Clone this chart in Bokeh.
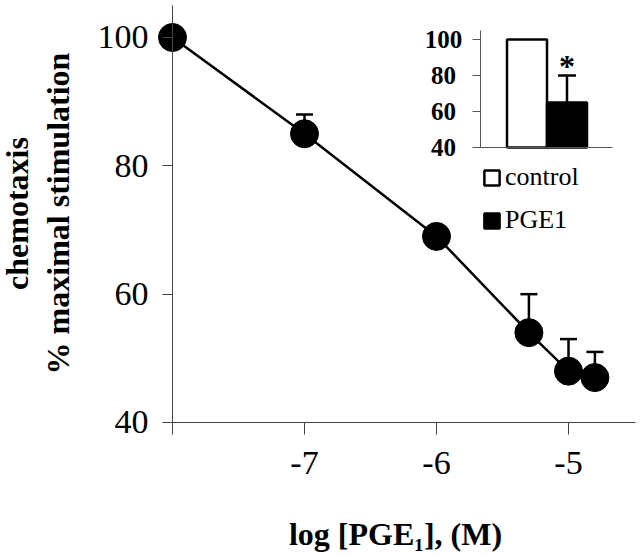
import math
from bokeh.plotting import figure
from bokeh.models import (Range1d, FixedTicker, ColumnDataSource, Whisker, TeeHead,
                          Label, Legend, LegendItem)
from bokeh.core.properties import value
from bokeh.embed import file_html
from bokeh.resources import INLINE

# ---------------- data ----------------
log_conc = [-8, -7, -6, -5.3, -5, -4.8]
chemotaxis = [100, 85, 69, 54, 48, 47]
sem_up = [0, 3, 0, 6, 5, 4]
x_ticks = [-8, -7, -6, -5]
y_ticks = [40, 60, 80, 100]

inset_groups = ["control", "PGE1"]
inset_values = [100, 65]
inset_sem = [0, 15]
inset_ticks = [40, 60, 80, 100]
inset_marks = ["", "*"]

x_title = "log [PGE\u2081], (M)"
y_title_1 = "chemotaxis"
y_title_2 = "% maximal stimulation"

SERIF = "Liberation Serif"

# ---------------- figure (frame covers the whole canvas) ----------------
p = figure(width=640, height=557, output_backend="svg", toolbar_location=None,
           x_range=Range1d(-9.30303, -4.45455), y_range=Range1d(18.961, 105.766),
           min_border_left=0, min_border_right=0, min_border_top=0,
           min_border_bottom=0)
p.outline_line_color = None
p.grid.visible = False
p.background_fill_color = "white"
p.border_fill_color = "white"

xa = p.xaxis[0]
xa.fixed_location = 40
xa.bounds = (-8, -4.4924)
xa.ticker = FixedTicker(ticks=x_ticks)
xa.major_label_overrides = {t: ("" if t == x_ticks[0] else str(t)) for t in x_ticks}
xa.minor_tick_line_color = None
xa.major_tick_in = 0
xa.major_tick_out = 12
xa.major_label_standoff = 18
xa.axis_line_color = "#444444"
xa.major_tick_line_color = "#444444"
xa.major_label_text_font = SERIF
xa.major_label_text_font_size = "34px"
xa.major_label_text_color = "black"

ya = p.yaxis[0]
ya.fixed_location = -8
ya.bounds = (40, 105)
ya.ticker = FixedTicker(ticks=y_ticks)
ya.minor_tick_line_color = None
ya.major_tick_in = 0
ya.major_tick_out = 10
ya.major_label_standoff = 14
ya.axis_line_color = "#444444"
ya.major_tick_line_color = "#444444"
ya.major_label_text_font = SERIF
ya.major_label_text_font_size = "34px"
ya.major_label_text_color = "black"

# ---------------- main curve ----------------
src = ColumnDataSource(dict(x=log_conc, y=chemotaxis))
err_idx = [i for i, e in enumerate(sem_up) if e > 0]
src_err = ColumnDataSource(dict(x=[log_conc[i] for i in err_idx],
                                y=[chemotaxis[i] for i in err_idx],
                                upper=[chemotaxis[i] + sem_up[i] for i in err_idx]))
w = Whisker(source=src_err, base="x", lower="y", upper="upper", dimension="height",
            line_color="black", line_width=2.5, lower_head=None,
            upper_head=TeeHead(size=17, line_width=2.5, line_color="black"),
            level="underlay")
p.add_layout(w)
p.line("x", "y", source=src, line_width=2.5, line_color="black")
p.scatter("x", "y", source=src, size=28, fill_color="black", line_color="black")

# ---------------- inset ----------------
p.extra_x_ranges = {"ix": Range1d(-12.1625, 3.8375)}
p.extra_y_ranges = {"iy": Range1d(-187.778, 121.667)}
pos = list(range(1, len(inset_groups) + 1))
ibase = inset_ticks[0]

r_ctrl = p.vbar(x=[pos[0]], top=[inset_values[0]], bottom=ibase, width=1.0,
                fill_color="white", line_color="black", line_width=2.5,
                x_range_name="ix", y_range_name="iy")
r_pge = p.vbar(x=[pos[1]], top=[inset_values[1]], bottom=ibase, width=1.0,
               fill_color="black", line_color="black", line_width=2.5,
               x_range_name="ix", y_range_name="iy")

ie = [i for i, e in enumerate(inset_sem) if e > 0]
isrc_err = ColumnDataSource(dict(x=[pos[i] for i in ie],
                                 y=[inset_values[i] for i in ie],
                                 upper=[inset_values[i] + inset_sem[i] for i in ie]))
iw = Whisker(source=isrc_err, base="x", lower="y", upper="upper", dimension="height",
             line_color="black", line_width=2.5, lower_head=None,
             upper_head=TeeHead(size=18, line_width=2.5, line_color="black"),
             x_range_name="ix", y_range_name="iy")
p.add_layout(iw)

# inset axes
iax = -0.1625
p.segment(x0=[iax], y0=[ibase], x1=[iax], y1=[105], line_color="#555555", line_width=1,
          x_range_name="ix", y_range_name="iy")
p.segment(x0=[iax], y0=[ibase], x1=[3.1375], y1=[ibase], line_color="#555555", line_width=1,
          x_range_name="ix", y_range_name="iy")
p.segment(x0=[iax - 0.2] * len(inset_ticks), y0=inset_ticks,
          x1=[iax] * len(inset_ticks), y1=inset_ticks,
          line_color="#555555", line_width=1, x_range_name="ix", y_range_name="iy")
p.text(x=[-1.0875] * len(inset_ticks), y=inset_ticks, text=[str(t) for t in inset_ticks],
       text_font=value(SERIF), text_font_style="bold", text_font_size="25px",
       text_align="center", text_baseline="middle", text_color="black",
       x_range_name="ix", y_range_name="iy")
p.text(x=pos, y=[v + e for v, e in zip(inset_values, inset_sem)], text=inset_marks,
       text_font=value(SERIF), text_font_style="bold", text_font_size="32px",
       text_align="center", text_baseline="alphabetic", y_offset=-10, text_color="black",
       x_range_name="ix", y_range_name="iy")

legend = Legend(items=[LegendItem(label=inset_groups[0], renderers=[r_ctrl]),
                       LegendItem(label=inset_groups[1], renderers=[r_pge])],
                location=(482, 322), orientation="vertical",
                padding=0, margin=0, spacing=13,
                glyph_width=19, glyph_height=19, label_height=30, label_standoff=4,
                label_text_font=SERIF, label_text_font_size="26px",
                label_text_color="black",
                border_line_color=None, background_fill_alpha=0)
p.add_layout(legend)

# ---------------- axis titles ----------------
p.add_layout(Label(x=-6.3106, y=22.6, text=x_title, text_font=SERIF,
                   text_font_style="bold", text_font_size="32px",
                   text_align="center", text_baseline="alphabetic", text_color="black"))
p.add_layout(Label(x=-9.18, y=72.57, text=y_title_1, angle=math.pi / 2,
                   text_font=SERIF, text_font_style="bold", text_font_size="32px",
                   text_align="center", text_baseline="middle", text_color="black"))
p.add_layout(Label(x=-8.865, y=72.57, text=y_title_2, angle=math.pi / 2,
                   text_font=SERIF, text_font_style="bold", text_font_size="32px",
                   text_align="center", text_baseline="middle", text_color="black"))

open("out.html", "w").write(file_html(p, INLINE))
